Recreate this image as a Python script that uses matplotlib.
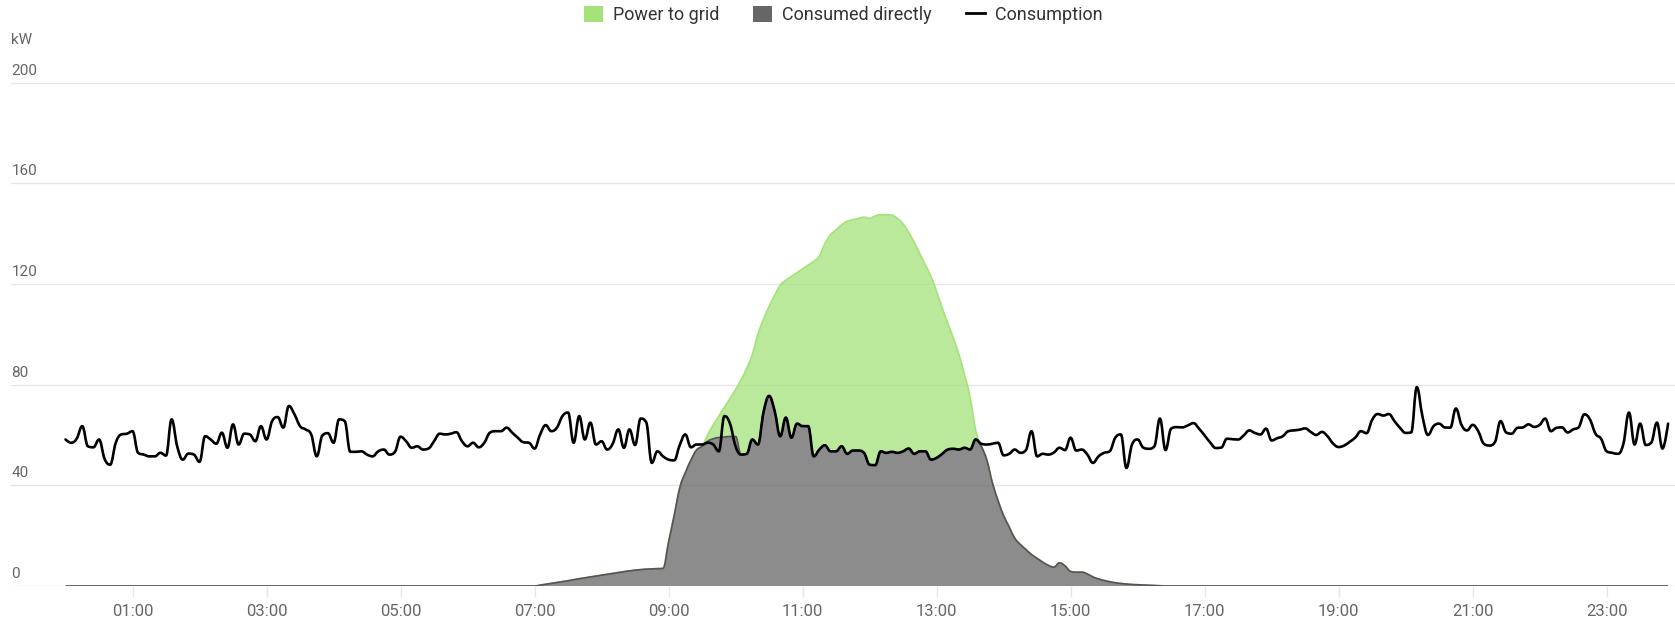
import numpy as np
import matplotlib
matplotlib.use("Agg")
import matplotlib.pyplot as plt
from matplotlib.patches import Patch, PathPatch
from matplotlib.lines import Line2D
from matplotlib.path import Path

plt.rcParams['font.family'] = ['Roboto', 'DejaVu Sans']

# ---------------- data (5-minute slots, 00:00 .. 23:55) ----------------
slot_minutes = 5
consumption = [
    58.2, 56.9, 58.5, 63.5, 55.5, 55.1, 58.2, 50.5, 48.2, 56.9, 60.2, 60.5,
    61.5, 52.9, 52.2, 51.5, 51.5, 52.9, 51.8, 66.2, 55.5, 50.2, 52.6, 52.2,
    49.3, 59.5, 58.2, 56.5, 60.9, 54.9, 64.2, 56.2, 60.5, 60.2, 57.5, 63.5,
    58.2, 65.5, 67.1, 62.9, 71.5, 68.2, 63.5, 62.2, 60.2, 51.5, 59.8, 60.7,
    56.9, 66.2, 65.5, 53.3, 53.3, 53.5, 52.2, 51.5, 53.5, 54.2, 52.2, 53.3,
    59.3, 57.5, 54.9, 55.5, 54.2, 54.6, 57.5, 60.5, 60.2, 60.5, 61.1, 57.5,
    55.5, 56.9, 55.1, 56.9, 60.9, 61.5, 61.5, 62.9, 60.9, 58.9, 57.1, 56.9,
    54.6, 60.2, 63.9, 61.5, 62.9, 67.5, 68.9, 56.9, 67.5, 58.2, 64.9, 56.2,
    57.5, 54.2, 56.5, 62.2, 54.9, 62.2, 56.0, 66.5, 65.0, 48.9, 53.5, 51.5,
    50.2, 49.9, 56.0, 60.2, 55.1, 56.2, 56.2, 56.9, 56.2, 53.5, 67.5, 64.5,
    55.5, 52.2, 52.5, 58.2, 56.2, 69.0, 75.5, 69.5, 59.5, 66.9, 58.9, 64.5,
    63.5, 63.5, 51.5, 54.2, 55.9, 53.5, 53.5, 55.5, 52.5, 53.8, 53.8, 52.9,
    48.2, 48.0, 53.5, 52.9, 53.3, 52.9, 53.5, 54.6, 52.5, 53.5, 53.5, 50.2,
    50.9, 52.5, 54.2, 54.5, 54.2, 54.9, 54.2, 58.2, 56.5, 56.2, 56.5, 56.9,
    51.9, 52.5, 54.2, 52.9, 54.0, 61.5, 51.5, 52.5, 52.2, 53.0, 54.9, 54.0,
    58.9, 53.8, 54.2, 52.2, 48.9, 51.5, 52.9, 53.5, 58.9, 60.2, 46.9, 56.2,
    58.2, 55.0, 54.5, 55.5, 66.5, 54.0, 62.5, 63.1, 63.0, 63.8, 64.7, 62.5,
    59.8, 57.0, 54.8, 55.0, 58.5, 58.3, 58.2, 59.8, 61.8, 60.8, 60.2, 62.5,
    57.8, 58.7, 59.5, 61.5, 61.8, 62.1, 62.6, 61.2, 60.0, 61.2, 59.5, 56.6,
    55.2, 55.8, 57.3, 59.0, 61.5, 60.7, 66.0, 68.3, 67.7, 68.3, 65.5, 62.8,
    60.8, 61.0, 79.0, 67.5, 60.0, 63.5, 64.5, 63.0, 62.9, 70.5, 64.0, 61.8,
    64.0, 61.5, 56.5, 55.8, 57.2, 65.5, 61.0, 60.5, 62.8, 63.0, 64.2, 63.2,
    64.0, 66.5, 61.5, 62.8, 63.0, 61.0, 62.2, 63.1, 68.2, 66.2, 60.5, 58.5,
    53.5, 52.9, 52.5, 56.5, 68.9, 56.2, 64.5, 56.0, 57.0, 64.9, 54.6, 64.5,
]

# solar window starts at slot 84 (07:00); values outside are 0
solar_first_slot = 84
production = [
    0.0, 0.35, 0.7, 1.05, 1.4, 1.75, 2.1, 2.5, 2.9, 3.25, 3.6, 3.95, 4.3,
    4.65, 5.0, 5.35, 5.7, 6.0, 6.3, 6.5, 6.7, 6.8, 6.9, 7.0, 17.5, 28.0,
    39.0, 45.0, 50.0, 54.0, 55.5,
    60.0, 64.0, 67.5, 71.0, 74.5, 78.0, 82.0, 86.5, 92.0, 100.0, 106.0,
    111.0, 115.5, 119.5, 121.5, 123.0, 124.5, 126.0, 127.5, 129.0, 131.0,
    136.0, 139.5, 141.5, 143.5, 144.9, 145.5, 146.0, 146.5, 146.0, 147.0,
    147.5, 147.5, 147.3, 146.0, 143.8, 140.5, 136.5, 132.0, 127.5, 123.0,
    117.0, 110.5, 104.5, 98.5, 92.0, 84.0, 75.0, 62.0,
    55.5, 50.0, 41.0, 34.0, 28.0, 23.5, 19.0, 16.5, 14.5, 12.5, 11.0, 9.5,
    8.2, 7.5, 9.2, 8.0, 5.8, 5.5, 5.5, 4.8, 3.6, 2.8, 2.2, 1.7, 1.3, 1.0,
    0.8, 0.6, 0.5, 0.4, 0.3, 0.2, 0.1, 0.0,
]
consumed_directly = [
    0.0, 0.35, 0.7, 1.05, 1.4, 1.75, 2.1, 2.5, 2.9, 3.25, 3.6, 3.95, 4.3,
    4.65, 5.0, 5.35, 5.7, 6.0, 6.3, 6.5, 6.7, 6.8, 6.9, 7.0, 17.5, 28.0,
    39.0, 45.0, 50.0, 54.0, 55.5,
    57.5, 58.5, 59.0, 59.2, 59.4, 59.4,
    52.2, 52.5, 58.2, 56.2, 69.0, 75.5, 69.5, 59.5, 66.9, 58.9, 64.5, 63.5,
    63.5, 51.5, 54.2, 55.9, 53.5, 53.5, 55.5, 52.5, 53.8, 53.8, 52.9, 48.2,
    48.0, 53.5, 52.9, 53.3, 52.9, 53.5, 54.6, 52.5, 53.5, 53.5, 50.2, 50.9,
    52.5, 54.2, 54.5, 54.2, 54.9, 54.2, 58.2,
    55.5, 50.0, 41.0, 34.0, 28.0, 23.5, 19.0, 16.5, 14.5, 12.5, 11.0, 9.5,
    8.2, 7.5, 9.2, 8.0, 5.8, 5.5, 5.5, 4.8, 3.6, 2.8, 2.2, 1.7, 1.3, 1.0,
    0.8, 0.6, 0.5, 0.4, 0.3, 0.2, 0.1, 0.0,
]

y_ticks = [0, 40, 80, 120, 160, 200]
x_tick_hours = [1, 3, 5, 7, 9, 11, 13, 15, 17, 19, 21, 23]
x_tick_labels = ["01:00", "03:00", "05:00", "07:00", "09:00", "11:00",
                 "13:00", "15:00", "17:00", "19:00", "21:00", "23:00"]
series_names = ["Power to grid", "Consumed directly", "Consumption"]
unit_label = "kW"

# ---------------- build arrays ----------------
n = len(consumption)
hours = np.arange(n) * slot_minutes / 60.0
prod = np.zeros(n)
direct = np.zeros(n)
prod[solar_first_slot:solar_first_slot + len(production)] = production
direct[solar_first_slot:solar_first_slot + len(consumed_directly)] = consumed_directly
cons = np.asarray(consumption, dtype=float)


def spline_segments(x, y, smoothing=1.5):
    """Smooth (spline-style) Bezier rendering through the data points."""
    n = len(x)
    lc = [(x[i], y[i]) for i in range(n)]
    rc = [(x[i], y[i]) for i in range(n)]
    d = smoothing + 1
    for i in range(1, n - 1):
        px, py, cx, cy, nx, ny = x[i - 1], y[i - 1], x[i], y[i], x[i + 1], y[i + 1]
        lcx, lcy = (smoothing * cx + px) / d, (smoothing * cy + py) / d
        rcx, rcy = (smoothing * cx + nx) / d, (smoothing * cy + ny) / d
        if rcx != lcx:
            corr = ((rcy - lcy) * (rcx - cx)) / (rcx - lcx) + cy - rcy
            lcy += corr
            rcy += corr
        if lcy > py and lcy > cy:
            lcy = max(py, cy); rcy = 2 * cy - lcy
        elif lcy < py and lcy < cy:
            lcy = min(py, cy); rcy = 2 * cy - lcy
        if rcy > ny and rcy > cy:
            rcy = max(ny, cy); lcy = 2 * cy - rcy
        elif rcy < ny and rcy < cy:
            rcy = min(ny, cy); lcy = 2 * cy - rcy
        lc[i] = (lcx, lcy)
        rc[i] = (rcx, rcy)
    verts, codes = [], []
    for i in range(1, n):
        verts += [rc[i - 1], lc[i], (x[i], y[i])]
        codes += [Path.CURVE4] * 3
    return verts, codes


def curve_path(x, y):
    v, c = spline_segments(x, y)
    return Path([(x[0], y[0])] + v, [Path.MOVETO] + c)


def band_path(x, y_top, y_bot):
    vt, ct = spline_segments(x, y_top)
    xr, yr = x[::-1], y_bot[::-1]
    vb, cb = spline_segments(xr, yr)
    verts = [(x[0], y_top[0])] + vt + [(xr[0], yr[0])] + vb + [(x[0], y_top[0])]
    codes = [Path.MOVETO] + ct + [Path.LINETO] + cb + [Path.CLOSEPOLY]
    return Path(verts, codes)


GREEN = "#a5e27a"
GRAY = "#666666"
GRID = "#e6e6e6"
LABEL = "#666666"

W, H = 1675, 638
fig = plt.figure(figsize=(W / 100, H / 100), dpi=100)
left_px, right_px = 10.7, 1675
top_px, bottom_px = 82.5, 586.0
ax = fig.add_axes([left_px / W, 1 - bottom_px / H,
                   (right_px - left_px) / W, (bottom_px - top_px) / H])

ax.set_xlim(-0.818, 24.02)
ax.set_ylim(0, 200)

for s in ax.spines.values():
    s.set_visible(False)

ax.set_yticks(y_ticks)
ax.yaxis.grid(True, color=GRID, linewidth=1.0, zorder=0)
ax.set_axisbelow(True)
ax.tick_params(axis='y', left=False, labelleft=False)
for v in y_ticks:
    ax.annotate(str(v), xy=(0, v), xycoords=('axes fraction', 'data'),
                xytext=(0.5, 3.5), textcoords='offset points',
                ha='left', va='bottom', fontsize=11, color=LABEL)

ax.set_xticks(x_tick_hours)
ax.set_xticklabels(x_tick_labels)
ax.tick_params(axis='x', length=8, width=1, color=GRID, pad=5,
               labelsize=12, labelcolor=LABEL)

# areas (spline style)
ax.add_patch(PathPatch(band_path(hours, prod, direct), facecolor=GREEN,
                       alpha=0.75, edgecolor='none', zorder=2))
ax.add_patch(PathPatch(curve_path(hours, prod), facecolor='none',
                       edgecolor=GREEN, linewidth=1.2, zorder=2.5))
ax.add_patch(PathPatch(band_path(hours, direct, np.zeros(n)), facecolor=GRAY,
                       alpha=0.75, edgecolor='none', zorder=3))
ax.add_patch(PathPatch(curve_path(hours, direct), facecolor='none',
                       edgecolor="#555555", linewidth=1.2, zorder=3.5))
ax.add_patch(PathPatch(curve_path(hours, cons), facecolor='none',
                       edgecolor='black', linewidth=1.9, joinstyle='round',
                       capstyle='round', zorder=4))

fig.text(11 / W, 1 - 40 / H, unit_label, ha='left', va='center',
         fontsize=11, color=LABEL)

handles = [Patch(facecolor=GREEN, edgecolor='none'),
           Patch(facecolor=GRAY, edgecolor='none'),
           Line2D([0], [0], color='black', linewidth=2)]
fig.legend(handles, series_names, loc='center', bbox_to_anchor=(0.5035, 1 - 15 / H),
           ncol=3, frameon=False, fontsize=13, handlelength=1.05, handleheight=1.05,
           handletextpad=0.55, columnspacing=1.9, labelcolor="#333333")

fig.savefig("out.png", dpi=100)
